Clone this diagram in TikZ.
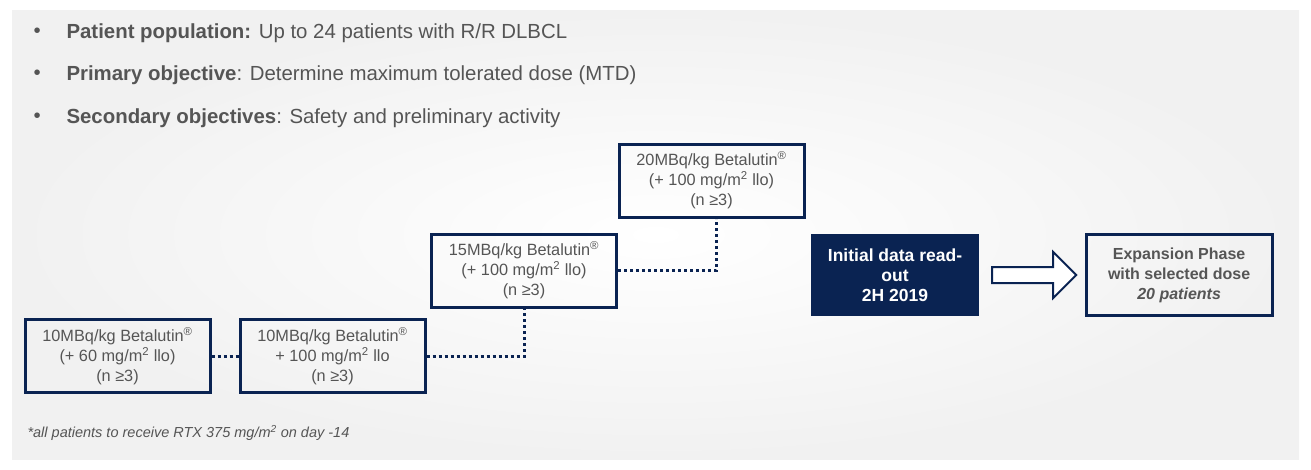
\documentclass[tikz,border=0pt]{standalone}
\usepackage{fontspec}
\setmainfont{Liberation Sans}
\usetikzlibrary{positioning, shapes.arrows}
\definecolor{navy}{HTML}{0A2352}
\definecolor{txt}{HTML}{555555}
\newcommand\reg{\textsuperscript{®}}
\newcommand\msq{m\textsuperscript{2}}

\begin{document}
\begin{tikzpicture}[x=1pt,y=-1pt,
  dose/.style={draw=navy,line width=3pt,minimum width=185pt,minimum height=73pt,
    align=center,text=txt,font=\fontsize{16.3}{20}\selectfont},
  link/.style={navy,line width=3pt,dash pattern=on 3pt off 3pt},
  bullet/.style={anchor=west,text=txt,font=\fontsize{20.4}{24}\selectfont}]
\useasboundingbox (0,0) rectangle (1311,469);
\shade[inner color=white,outer color=gray!11] (12,10) rectangle (1299,459);
% objectives
\foreach \y/\t in {33/{\textbf{Patient population:} Up to 24 patients with R/R DLBCL},
  75/{\textbf{Primary objective}: Determine maximum tolerated dose (MTD)},
  118/{\textbf{Secondary objectives}: Safety and preliminary activity}}
  {\node[bullet] at (30,\y) {•}; \node[bullet] at (63,\y) {\t};}
% dose escalation
\node[dose] (d1) at (117.5,356) {10MBq/kg Betalutin\reg\\(+ 60 mg/\msq{} llo)\\(n ≥3)};
\node[dose] (d2) at (332.5,356) {10MBq/kg Betalutin\reg\\+ 100 mg/\msq{} llo\\(n ≥3)};
\node[dose] (d3) at (524,270.5) {15MBq/kg Betalutin\reg\\(+ 100 mg/\msq{} llo)\\(n ≥3)};
\node[dose] (d4) at (711.5,180.5) {20MBq/kg Betalutin\reg\\(+ 100 mg/\msq{} llo)\\(n ≥3)};
\draw[link] (d1.east) -- (d2.west);
\draw[link] (d2.east) -| (d3.south);
\draw[link] (d3.east) -| ([xshift=4.5pt]d4.south);
% read-out and expansion
\node[fill=navy,minimum width=168pt,minimum height=82pt,align=center,text=white,
  font=\bfseries\fontsize{17.5}{20}\selectfont] (rd) at (895,275) {Initial data read-\\out\\2H 2019};
\node[single arrow,draw=navy,fill=white,line width=2pt,minimum height=84pt,inner sep=7pt,
  single arrow head extend=15pt,right=12pt of rd] (ar) {};
\node[draw=navy,line width=3pt,minimum width=186pt,minimum height=81pt,align=center,text=txt,
  font=\bfseries\fontsize{16}{20}\selectfont,right=7pt of ar] (ex)
  {Expansion Phase\\with selected dose\\\textit{20 patients}};
\node[anchor=west,text=txt,font=\itshape\fontsize{14.5}{16}\selectfont] (fn) at (24,433)
  {*all patients to receive RTX 375 mg/\msq{} on day -14};
\end{tikzpicture}
\end{document}
